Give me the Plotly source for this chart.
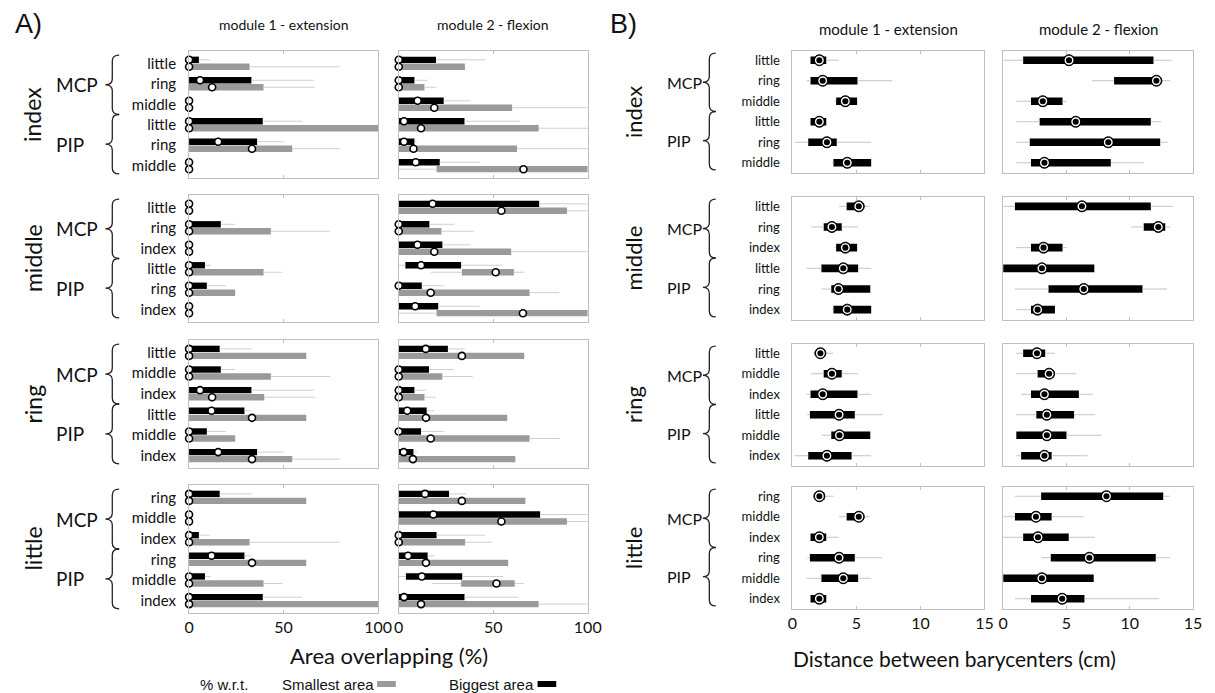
import plotly.graph_objects as go

W, H = 1215, 693

rows = ['index', 'middle', 'ring', 'little']
joints = ['MCP', 'PIP']
modules = ['module 1 - extension', 'module 2 - flexion']
pair_labels = {
    'index': ['little', 'ring', 'middle'],
    'middle': ['little', 'ring', 'index'],
    'ring': ['little', 'middle', 'index'],
    'little': ['ring', 'middle', 'index'],
}
a_ticks = [0, 50, 100]
b_ticks = [0, 5, 10, 15]

# A) area overlapping (%) -- (q1, q3, whisker lo, whisker hi, median)
# items: MCP x3 then PIP x3
a_index_ext_big = [(0, 5.2, 0, 11, 0), (0, 33, 0, 66, 5.8), (0, 0, 0, 0, 0),
                   (0, 39, 0, 60, 0), (0, 36, 0, 50, 15.4), (0, 0, 0, 0, 0)]
a_index_ext_small = [(0, 32, 0, 79.6, 0), (0, 39.4, 0, 66.5, 12.2), (0, 0, 0, 0, 0),
                     (0, 100, 0, 100, 0), (0, 54.6, 0, 79.6, 33.3), (0, 0, 0, 0, 0)]
a_index_flex_big = [(0, 19.7, 0, 46, 0), (0, 8.3, 0, 15.3, 0), (0, 23.8, 0, 38, 10),
                    (0, 34.8, 0, 64, 2.8), (0, 8.3, 0, 9.5, 2.8), (0, 21.7, 0, 43, 9)]
a_index_flex_small = [(0, 35, 0, 35, 0), (0, 13.6, 0, 20, 0), (0, 60, 0, 100, 18.8),
                      (0, 74, 0, 100, 11.8), (0, 62.6, 0, 100, 7.8), (20, 100, 0, 100, 66)]

a_middle_ext_big = [(0, 0, 0, 0, 0), (0, 16.8, 0, 24.4, 0), (0, 0, 0, 0, 0),
                    (0, 8.4, 0, 11.5, 0), (0, 9.4, 0, 19.4, 0), (0, 0, 0, 0, 0)]
a_middle_ext_small = [(0, 0, 0, 0, 0), (0, 43.3, 0, 74.7, 0), (0, 0, 0, 0, 0),
                      (0, 39.4, 0, 49.4, 0), (0, 24.4, 0, 24.4, 0), (0, 0, 0, 0, 0)]
a_middle_flex_big = [(0, 74.3, 0, 100, 17.9), (0, 16.2, 0, 29.6, 0), (0, 23.1, 0, 37.9, 9.9),
                     (3.5, 33, 0, 54.8, 11.8), (0, 12.2, 0, 23.8, 0), (0, 20.9, 0, 42.6, 8.7)]
a_middle_flex_small = [(0, 89, 0, 100, 54.3), (0, 22.6, 0, 39.7, 0), (0, 59.5, 0, 100, 18.8),
                       (33.4, 60.9, 17, 66.4, 51.3), (0, 69.2, 0, 84.9, 16.9), (20, 100, 0, 100, 65.7)]

a_ring_ext_big = [(0, 16.2, 0, 33, 0), (0, 16.8, 0, 24.4, 0), (0, 33, 0, 66, 5.8),
                  (0, 29.3, 0, 33, 11.9), (0, 9.4, 0, 19.4, 0), (0, 36, 0, 50, 15.4)]
a_ring_ext_small = [(0, 62, 0, 62, 0), (0, 43.3, 0, 74.7, 0), (0, 39.8, 0, 66.8, 12.2),
                    (0, 62, 0, 62, 33.3), (0, 24.4, 0, 24.4, 0), (0, 54.6, 0, 79.6, 33.3)]
a_ring_flex_big = [(0, 26, 0, 35, 14.3), (0, 16, 0, 29.2, 0), (0, 8.3, 0, 14.4, 0),
                   (0, 14.8, 0, 18.8, 4.5), (0, 11.8, 0, 23.8, 0), (0, 7.8, 0, 9.6, 2.6)]
a_ring_flex_small = [(0, 66.4, 0, 66.4, 33.4), (0, 23.1, 0, 39.1, 0), (0, 13.6, 0, 19.7, 0),
                     (0, 57.4, 0, 57.4, 14.4), (0, 69.2, 0, 85.2, 16.9), (0, 61.7, 0, 61.7, 7.5)]

a_little_ext_big = [(0, 16.2, 0, 33, 0), (0, 0, 0, 0, 0), (0, 5.2, 0, 11, 0),
                    (0, 29.3, 0, 33, 11.9), (0, 8.4, 0, 11.5, 0), (0, 39, 0, 60, 0)]
a_little_ext_small = [(0, 62, 0, 62, 0), (0, 0, 0, 0, 0), (0, 32, 0, 79.6, 0),
                      (0, 62, 0, 62, 33.3), (0, 39.4, 0, 49.4, 0), (0, 100, 0, 100, 0)]
a_little_flex_big = [(0, 26.6, 0, 35.7, 13.9), (0, 74.8, 0, 100, 18.3), (0, 20, 0, 45.6, 0),
                     (0, 15.3, 0, 19.1, 4.9), (3.8, 33.6, 0, 55.3, 12.2), (0, 34.8, 0, 63.5, 2.8)]
a_little_flex_small = [(0, 67, 0, 67, 33.4), (0, 89, 0, 100, 54.3), (0, 35.1, 0, 49.6, 0),
                       (0, 57.9, 0, 57.9, 14.4), (33, 61.4, 17.7, 66.4, 51.7), (0, 74, 0, 100, 11.8)]

# B) distance between barycenters (cm) -- (q1, q3, whisker lo, whisker hi, median)
b_index_ext = [(1.41, 2.64, 1.41, 3.6, 2.1), (1.41, 5.08, 1.1, 7.8, 2.36), (3.41, 5.05, 3.3, 5.05, 4.13),
               (1.41, 2.64, 1.41, 2.64, 2.1), (1.23, 3.46, 0.18, 6.15, 2.69), (3.2, 6.15, 3.08, 6.15, 4.28)]
b_index_flex = [(1.58, 11.87, 0.08, 13.3, 5.2), (8.76, 12.2, 7.0, 13.2, 12.1), (2.2, 4.69, 1.04, 5.05, 3.13),
                (2.88, 11.66, 1.04, 12.5, 5.73), (2.1, 12.4, 1.04, 13.0, 8.3), (2.2, 8.5, 1.04, 11.1, 3.26)]
b_middle_ext = [(4.23, 5.13, 3.64, 6.03, 5.18), (2.44, 3.85, 1.46, 5.13, 3.08), (3.41, 5.05, 3.3, 5.05, 4.13),
                (2.26, 5.13, 1.1, 6.15, 3.97), (3.03, 6.08, 2.3, 6.08, 3.59), (3.2, 6.15, 3.08, 6.15, 4.28)]
b_middle_flex = [(0.93, 11.66, 0, 13.4, 6.22), (11.1, 12.8, 10.1, 13.2, 12.25), (2.2, 4.69, 1.04, 5.05, 3.19),
                 (0, 7.2, 0, 7.2, 3.06), (3.58, 11.0, 0.93, 12.95, 6.37), (2.2, 4.09, 1.04, 4.09, 2.72)]
b_ring_ext = [(1.87, 2.49, 1.6, 3.2, 2.18), (2.44, 3.85, 1.46, 5.13, 3.08), (1.41, 5.08, 1.1, 6.15, 2.36),
              (1.36, 4.87, 1.15, 7.0, 3.64), (3.03, 6.08, 2.3, 6.08, 3.67), (1.23, 4.62, 0.18, 6.15, 2.69)]
b_ring_flex = [(1.58, 3.32, 1.04, 4.09, 2.67), (2.72, 4.02, 1.04, 5.78, 3.63), (2.2, 5.98, 1.42, 7.07, 3.26),
               (2.62, 5.6, 1.04, 7.28, 3.45), (1.04, 5.0, 1.04, 7.77, 3.45), (1.42, 3.83, 1.04, 6.68, 3.26)]
b_little_ext = [(1.87, 2.49, 1.6, 3.2, 2.1), (4.23, 5.13, 3.64, 6.03, 5.18), (1.41, 2.64, 1.41, 3.6, 2.1),
                (1.36, 4.87, 1.15, 7.0, 3.64), (2.26, 5.13, 1.1, 6.15, 3.97), (1.41, 2.64, 1.41, 2.64, 2.1)]
b_little_flex = [(3.0, 12.64, 0.93, 13.16, 8.16), (0.93, 3.83, 0, 6.35, 2.59), (1.58, 5.18, 0, 7.25, 2.75),
                 (3.76, 12.05, 3.0, 13.16, 6.81), (0, 7.15, 0, 7.15, 3.06), (2.2, 6.42, 0.93, 12.33, 4.66)]

a_big = [[a_index_ext_big, a_index_flex_big], [a_middle_ext_big, a_middle_flex_big],
         [a_ring_ext_big, a_ring_flex_big], [a_little_ext_big, a_little_flex_big]]
a_small = [[a_index_ext_small, a_index_flex_small], [a_middle_ext_small, a_middle_flex_small],
           [a_ring_ext_small, a_ring_flex_small], [a_little_ext_small, a_little_flex_small]]
b_data = [[b_index_ext, b_index_flex], [b_middle_ext, b_middle_flex],
          [b_ring_ext, b_ring_flex], [b_little_ext, b_little_flex]]

# ---- layout geometry (pixels) ----
a_cols = [(187, 379), (400, 592)]
b_cols = [(800, 995), (1014, 1207)]
a_rows = [(51, 178), (195, 322), (340, 468), (485, 613)]
b_rows = [(51, 173), (197, 320), (344, 466), (487, 609)]
a_yr = [5.6, -0.6]
b_yr = [5.5, -0.45]

FONT = 'Lato'
GRAY = '#9a9a9a'
WHISK = '#cfcfcf'
FRAME = '#bfbfbf'


def px(x):
    return x / W


def py(y):
    return 1 - y / H


def ypix(rowpx, yr, v):
    top, bot = rowpx
    return top + (v - yr[1]) / (yr[0] - yr[1]) * (bot - top)


def brace(xt, xe, y0, y1):
    xc = (xt + xe) / 2
    ym = (y0 + y1) / 2
    r = 6
    pts = [('M', xe, y0), ('Q', xc, y0), ('', xc, y0 + r), ('L', xc, ym - r),
           ('Q', xc, ym), ('', xt, ym), ('Q', xc, ym), ('', xc, ym + r),
           ('L', xc, y1 - r), ('Q', xc, y1), ('', xe, y1)]
    return ' '.join(f'{c}{px(x):.5f},{py(y):.5f}' for c, x, y in pts)


def note(x, y, text, size, family=FONT, xanchor='center', angle=0):
    return dict(x=px(x), y=py(y), xref='paper', yref='paper', text=text, showarrow=False,
                xanchor=xanchor, yanchor='middle', textangle=angle,
                font=dict(family=family, size=size, color='#111'))


def whiskers(d, offs):
    # thin lines only outside the box (scatter is drawn above bars)
    wx, wy = [], []
    for i, t in enumerate(d):
        yy = i + offs
        if t[2] < t[0]:
            wx += [t[2], t[0], None]
            wy += [yy, yy, None]
        if t[3] > t[1]:
            wx += [t[1], t[3], None]
            wy += [yy, yy, None]
    return wx, wy


fig = go.Figure()
layout_axes = {}
shapes = []
annotations = []


def add_axes(s, xd, yd, xr, yr, ticks, show_xlabels, ylabels, ysize):
    xn = 'x' if s == 0 else f'x{s + 1}'
    yn = 'y' if s == 0 else f'y{s + 1}'
    xkey = 'xaxis' if s == 0 else f'xaxis{s + 1}'
    ykey = 'yaxis' if s == 0 else f'yaxis{s + 1}'
    layout_axes[xkey] = dict(domain=[px(xd[0]), px(xd[1])], range=xr, anchor=yn,
                             tickvals=ticks, showticklabels=show_xlabels,
                             ticks='inside', ticklen=3, tickcolor=FRAME, mirror='ticks',
                             showline=True, linecolor=FRAME, linewidth=1,
                             showgrid=False, zeroline=False,
                             tickfont=dict(family=FONT, size=16, color='#111'))
    layout_axes[ykey] = dict(domain=[py(yd[1]), py(yd[0])], range=yr, anchor=xn,
                             showline=True, linecolor=FRAME, linewidth=1, mirror=True,
                             showgrid=False, zeroline=False, ticks='',
                             tickvals=list(range(6)) if ylabels else [],
                             ticktext=ylabels if ylabels else None,
                             showticklabels=bool(ylabels), ticklabelstandoff=9,
                             tickfont=dict(family=FONT, size=ysize, color='#111'))
    return xn, yn


# ---- panel A ----
for r, row in enumerate(rows):
    for c in range(2):
        s = r * 2 + c
        labels = pair_labels[row] * 2 if c == 0 else None
        xn, yn = add_axes(s, a_cols[c], a_rows[r], [0, 100], a_yr, a_ticks, r == 3, labels, 15)
        big, small = a_big[r][c], a_small[r][c]
        bx, by = whiskers(big, -0.17)
        sx, sy = whiskers(small, 0.17)
        fig.add_trace(go.Scatter(x=bx + sx, y=by + sy, mode='lines', line=dict(color=WHISK, width=1),
                                 xaxis=xn, yaxis=yn, showlegend=False, hoverinfo='skip'))
        for d, off, col in ((big, -0.17, 'black'), (small, 0.17, GRAY)):
            fig.add_trace(go.Bar(orientation='h', y=[i + off for i in range(6)],
                                 x=[t[1] - t[0] for t in d], base=[t[0] for t in d],
                                 width=0.31, marker=dict(color=col, line=dict(width=0)),
                                 xaxis=xn, yaxis=yn, showlegend=False))
        mx = [t[4] for t in big] + [t[4] for t in small]
        my = [i - 0.17 for i in range(6)] + [i + 0.17 for i in range(6)]
        fig.add_trace(go.Scatter(x=mx, y=my, mode='markers', cliponaxis=False,
                                 marker=dict(size=7, color='white', line=dict(color='black', width=1.6)),
                                 xaxis=xn, yaxis=yn, showlegend=False))

# ---- panel B ----
for r, row in enumerate(rows):
    for c in range(2):
        s = 8 + r * 2 + c
        labels = pair_labels[row] * 2 if c == 0 else None
        xn, yn = add_axes(s, b_cols[c], b_rows[r], [0, 15], b_yr, b_ticks, r == 3, labels, 13)
        d = b_data[r][c]
        wx, wy = whiskers(d, 0)
        fig.add_trace(go.Scatter(x=wx, y=wy, mode='lines', line=dict(color='#c4c4c4', width=1),
                                 xaxis=xn, yaxis=yn, showlegend=False, hoverinfo='skip'))
        fig.add_trace(go.Bar(orientation='h', y=list(range(6)),
                             x=[t[1] - t[0] for t in d], base=[t[0] for t in d],
                             width=0.37, marker=dict(color='black', line=dict(width=0)),
                             xaxis=xn, yaxis=yn, showlegend=False))
        med = [t[4] for t in d]
        fig.add_trace(go.Scatter(x=med, y=list(range(6)), mode='markers', cliponaxis=False,
                                 marker=dict(size=11, color='black', line=dict(color='black', width=1)),
                                 xaxis=xn, yaxis=yn, showlegend=False))
        fig.add_trace(go.Scatter(x=med, y=list(range(6)), mode='markers', cliponaxis=False,
                                 marker=dict(size=7.5, color='black', line=dict(color='white', width=1.4)),
                                 xaxis=xn, yaxis=yn, showlegend=False))

# ---- labels, braces ----
for r, row in enumerate(rows):
    for rowpx, yr, xrow, xj, jsize, rsize, xt, xe, spans in (
            (a_rows[r], a_yr, 28, 50, 19, 23, 102, 116, [(-0.4, 2.5), (2.5, 5.4)]),
            (b_rows[r], b_yr, 638, 670, 16, 22, 709, 722, [(-0.35, 2.5), (2.5, 5.35)])):
        ymid = (rowpx[0] + rowpx[1]) / 2
        annotations.append(note(xrow, ymid, row, rsize, angle=-90))
        for j, (v0, v1) in enumerate(spans):
            y0, y1 = ypix(rowpx, yr, v0), ypix(rowpx, yr, v1)
            shapes.append(dict(type='path', path=brace(xt, xe, y0, y1), xref='paper', yref='paper',
                               line=dict(color='#222', width=1.3)))
            annotations.append(note(xj, (y0 + y1) / 2, joints[j], jsize, xanchor='left'))

for cols, ytitle, size in ((a_cols, 25, 14), (b_cols, 29, 15)):
    for c in range(2):
        annotations.append(note((cols[c][0] + cols[c][1]) / 2, ytitle, modules[c], size))

annotations += [
    note(8, 24, 'A)', 27, family='Liberation Sans', xanchor='left'),
    note(613, 24, 'B)', 27, family='Liberation Sans', xanchor='left'),
    note(390, 655, 'Area overlapping (%)', 22),
    note(965, 658, 'Distance between barycenters (cm)', 21),
    note(196, 684, '% w.r.t.', 15, family='Liberation Sans', xanchor='left'),
    note(377, 684, 'Smallest area', 15, family='Liberation Sans', xanchor='right'),
    note(539, 684, 'Biggest area', 15, family='Liberation Sans', xanchor='right'),
]
shapes += [
    dict(type='rect', xref='paper', yref='paper', x0=px(378), x1=px(397), y0=py(687), y1=py(681),
         fillcolor=GRAY, line=dict(width=0)),
    dict(type='rect', xref='paper', yref='paper', x0=px(541), x1=px(560), y0=py(687), y1=py(681),
         fillcolor='black', line=dict(width=0)),
]

fig.update_layout(width=W, height=H, margin=dict(l=0, r=0, t=0, b=0),
                  plot_bgcolor='white', paper_bgcolor='white', barmode='overlay',
                  shapes=shapes, annotations=annotations, **layout_axes)

fig.write_html("out.html", config={'displayModeBar': False},
               post_script="document.body.style.margin='0';")
